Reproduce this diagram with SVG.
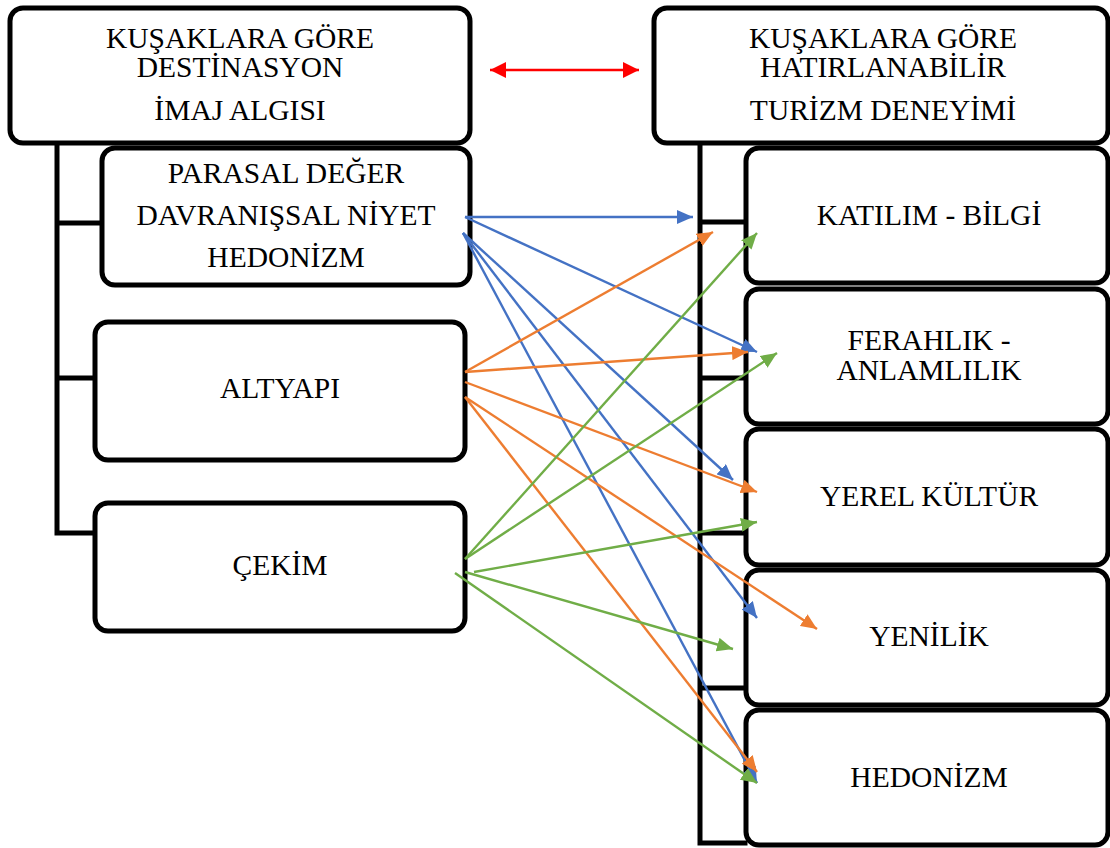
<svg xmlns="http://www.w3.org/2000/svg" width="1110" height="848" viewBox="0 0 1110 848">
  <style>
    .box { fill: #ffffff; stroke: #000000; stroke-width: 5; }
    .tree { fill: none; stroke: #000000; stroke-width: 5; stroke-linecap: square; }
    .lbl { font-family: "Liberation Serif", "Times New Roman", serif; font-size: 29.5px; fill: #000000; text-anchor: middle; }
    .blue { stroke: #4472C4; stroke-width: 2.4; fill: none; marker-end: url(#headBlue); }
    .orange { stroke: #ED7D31; stroke-width: 2.4; fill: none; marker-end: url(#headOrange); }
    .green { stroke: #70AD47; stroke-width: 2.4; fill: none; marker-end: url(#headGreen); }
    .red { stroke: #FF0000; stroke-width: 2.4; fill: none; marker-start: url(#headRed); marker-end: url(#headRed); }
  </style>
  <defs>
    <marker id="headBlue" markerUnits="userSpaceOnUse" markerWidth="17" markerHeight="14" refX="16" refY="7" orient="auto">
      <path d="M0,0 L16,7 L0,14 z" fill="#4472C4"/>
    </marker>
    <marker id="headOrange" markerUnits="userSpaceOnUse" markerWidth="17" markerHeight="14" refX="16" refY="7" orient="auto">
      <path d="M0,0 L16,7 L0,14 z" fill="#ED7D31"/>
    </marker>
    <marker id="headGreen" markerUnits="userSpaceOnUse" markerWidth="17" markerHeight="14" refX="16" refY="7" orient="auto">
      <path d="M0,0 L16,7 L0,14 z" fill="#70AD47"/>
    </marker>
    <marker id="headRed" markerUnits="userSpaceOnUse" markerWidth="17" markerHeight="16" refX="16" refY="8" orient="auto-start-reverse">
      <path d="M0,0 L16,8 L0,16 z" fill="#FF0000"/>
    </marker>
  </defs>

  <!-- tree lines joining each parent to its children -->
  <g id="tree-lines">
    <path class="tree" d="M57,143 V533 H97 M57,223 H102 M57,378 H95"/>
    <path class="tree" d="M700,143 V843 H745 M700,222 H745 M700,378 H745 M700,533 H745 M700,688 H745"/>
  </g>

  <!-- left column -->
  <g id="node-destinasyon">
    <rect class="box" x="10" y="8" width="460" height="135" rx="13"/>
    <text class="lbl" x="240" y="48">KUŞAKLARA GÖRE</text>
    <text class="lbl" x="240" y="77">DESTİNASYON</text>
    <text class="lbl" x="240" y="120">İMAJ ALGISI</text>
  </g>
  <g id="node-parasal">
    <rect class="box" x="102" y="148" width="368" height="137" rx="13"/>
    <text class="lbl" x="286" y="183">PARASAL DEĞER</text>
    <text class="lbl" x="286" y="225">DAVRANIŞSAL NİYET</text>
    <text class="lbl" x="286" y="267">HEDONİZM</text>
  </g>
  <g id="node-altyapi">
    <rect class="box" x="95" y="322" width="370" height="138" rx="13"/>
    <text class="lbl" x="280" y="398">ALTYAPI</text>
  </g>
  <g id="node-cekim">
    <rect class="box" x="95" y="503" width="370" height="128" rx="13"/>
    <text class="lbl" x="280" y="575">ÇEKİM</text>
  </g>

  <!-- right column -->
  <g id="node-deneyim">
    <rect class="box" x="654" y="8" width="454" height="135" rx="13"/>
    <text class="lbl" x="883" y="48">KUŞAKLARA GÖRE</text>
    <text class="lbl" x="883" y="77">HATIRLANABİLİR</text>
    <text class="lbl" x="883" y="120">TURİZM DENEYİMİ</text>
  </g>
  <g id="node-katilim">
    <rect class="box" x="746" y="148" width="362" height="135" rx="13"/>
    <text class="lbl" x="929" y="225">KATILIM - BİLGİ</text>
  </g>
  <g id="node-ferahlik">
    <rect class="box" x="746" y="289" width="362" height="135" rx="13"/>
    <text class="lbl" x="929" y="350">FERAHLIK -</text>
    <text class="lbl" x="929" y="380">ANLAMLILIK</text>
  </g>
  <g id="node-yerel">
    <rect class="box" x="746" y="429" width="362" height="136" rx="13"/>
    <text class="lbl" x="929" y="506">YEREL KÜLTÜR</text>
  </g>
  <g id="node-yenilik">
    <rect class="box" x="746" y="570" width="362" height="135" rx="13"/>
    <text class="lbl" x="929" y="646">YENİLİK</text>
  </g>
  <g id="node-hedonizm">
    <rect class="box" x="746" y="710" width="362" height="135" rx="13"/>
    <text class="lbl" x="929" y="787">HEDONİZM</text>
  </g>

  <!-- connectors -->
  <g id="connectors">
    <line class="red" x1="490" y1="70" x2="639" y2="70"/>

    <line class="blue" x1="465" y1="217" x2="693" y2="217"/>
    <line class="blue" x1="465" y1="217" x2="757" y2="352"/>
    <line class="blue" x1="463" y1="233" x2="733" y2="480"/>
    <line class="blue" x1="463" y1="233" x2="757" y2="618"/>
    <line class="blue" x1="463" y1="233" x2="757" y2="783"/>

    <line class="orange" x1="465" y1="372" x2="713" y2="232"/>
    <line class="orange" x1="465" y1="372" x2="748" y2="352"/>
    <line class="orange" x1="465" y1="382" x2="757" y2="492"/>
    <line class="orange" x1="465" y1="397" x2="817" y2="629"/>
    <line class="orange" x1="465" y1="397" x2="757" y2="772"/>

    <line class="green" x1="465" y1="559" x2="757" y2="233"/>
    <line class="green" x1="465" y1="559" x2="777" y2="353"/>
    <line class="green" x1="474" y1="572" x2="757" y2="522"/>
    <line class="green" x1="465" y1="572" x2="733" y2="649"/>
    <line class="green" x1="455" y1="573" x2="757" y2="783"/>
  </g>
</svg>
